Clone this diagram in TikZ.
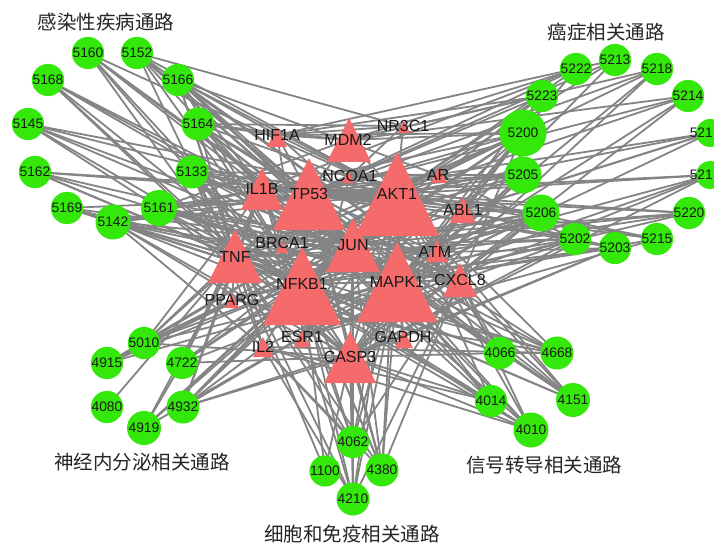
\documentclass[tikz,border=0pt]{standalone}
\usepackage{fontspec}
\setmainfont{Liberation Sans}
\newfontfamily\cjk{Noto Sans CJK SC}
\pgfdeclarelayer{bgl}
\pgfdeclarelayer{edges}
\pgfsetlayers{bgl,edges,main}
\definecolor{gfill}{RGB}{51,232,10}
\definecolor{tfill}{RGB}{245,106,106}
\definecolor{edgec}{RGB}{132,132,132}
\definecolor{labc}{RGB}{25,25,25}
\tikzset{
  gnode/.style={circle, fill=gfill, inner sep=0pt, text=labc, font=\fontsize{13.8}{13.8}\selectfont},
  glabel/.style={inner sep=0pt, text=labc, font=\fontsize{13.8}{13.8}\selectfont},
  tlabel/.style={inner sep=0pt, text=labc, font=\fontsize{16}{16}\selectfont},
  edge/.style={draw=edgec, line width=1.8pt},
  title/.style={inner sep=0pt, text=black!85, font=\cjk\fontsize{19.5}{19.5}\selectfont}
}
\begin{document}
\begin{tikzpicture}[x=1pt,y=-1pt]
\useasboundingbox (0,0) rectangle (714,545);
\begin{pgfonlayer}{bgl}
\fill[white] (0,0) rectangle (714,545);
\end{pgfonlayer}
\clip (0,0) rectangle (714,545);
% green pathway nodes
\foreach \n/\x/\y/\d in {
  5160/88/53/30, 5152/137/53/30, 5166/178/80/32, 5168/48/80/30, 5145/28/124/28,
  5164/198/124/33, 5162/35/172/28, 5133/192/172/33, 5169/67/208/27, 5161/159/208/36,
  5142/113/222/35,
  5222/576/69/24, 5213/615/60/22, 5218/657/69/27, 5223/542/96/26, 5214/688/96/26,
  5200/523/133/47, 5205/523/175/37, 5206/541/213/37, 5220/689/213/31, 5202/575/239/32,
  5215/657/239/30, 5203/615/248/32,
  5010/144/343/30, 4915/107/363/25, 4722/182/363/32, 4080/107/407/15, 4932/183/407/33,
  4919/144/428/34,
  4066/500/353/30, 4668/557/353/33, 4014/491/401/28, 4151/573/400/34, 4010/531/430/35,
  4062/353/442/26, 1100/325/471/17, 4380/382/470/33, 4210/353/499/33}
  {\node[gnode, minimum size=\d pt] (g\n) at (\x,\y) {\n};}
\node[gnode, minimum size=28pt] (g521a) at (710,133) {};
\node[glabel, anchor=east] (l521a) at (713,133) {521};
\node[gnode, minimum size=28pt] (g521b) at (710,175) {};
\node[glabel, anchor=east] (l521b) at (713,175) {521};
% red gene triangles
\foreach \n/\x/\y/\s in {
  TP53/309/194/36, AKT1/397/194/42, NFKB1/302/286/39, MAPK1/397/282/40,
  JUN/353/245/27, TNF/235/256/27, CASP3/350/357/26, IL1B/262/189/21,
  MDM2/349/140/22, CXCL8/460/280/17, ABL1/463/210/13, HIF1A/277/137/10,
  IL2/263/347/10, ATM/437/251/11, AR/439/175/8, NR3C1/404/127/6,
  NCOA1/348/177/6, BRCA1/282/247/6, PPARG/232/301/7, ESR1/302/339/8,
  GAPDH/404/339/9}
  {\fill[tfill] (\x,\y-\s) -- (\x-\s,\y+\s) -- (\x+\s,\y+\s) -- cycle;}
\foreach \n/\x/\y in {
  TP53/309/194, AKT1/397/194, NFKB1/302/284, MAPK1/397/282,
  JUN/353/245, TNF/235/257, CASP3/350/357, IL1B/262/189,
  MDM2/348/140, CXCL8/460/280, ABL1/463/210, HIF1A/277/135,
  IL2/263/347, ATM/435/252, AR/438/175, NR3C1/403/126,
  NCOA1/350/176, BRCA1/282/243, PPARG/232/300, ESR1/302/337,
  GAPDH/403/337}
  {\node[tlabel] (\n) at (\x,\y) {\n};}
% connectors
\begin{pgfonlayer}{edges}
\foreach \s/\ts in {
  g5160/{TNF,NFKB1,IL1B,JUN,MAPK1,AKT1,CASP3},
  g5152/{TNF,NFKB1,IL1B,TP53,AKT1,MAPK1,CXCL8,JUN,NR3C1},
  g5166/{TNF,NFKB1,IL1B,JUN,MAPK1,AKT1,CXCL8,HIF1A,TP53,IL2,AR},
  g5168/{TNF,NFKB1,IL1B,JUN,CASP3,MAPK1},
  g5145/{TNF,NFKB1,AKT1,MAPK1,JUN,TP53},
  g5164/{TNF,NFKB1,IL1B,AKT1,TP53,MAPK1,CXCL8,JUN,CASP3,HIF1A,MDM2,NR3C1},
  g5162/{TNF,NFKB1,AKT1,MAPK1,IL1B,JUN},
  g5133/{TNF,NFKB1,IL1B,JUN,MAPK1,AKT1,CXCL8,CASP3,TP53,IL2,AR},
  g5169/{TNF,NFKB1,MAPK1,JUN,AKT1},
  g5161/{TNF,NFKB1,IL1B,AKT1,MAPK1,TP53,JUN,CASP3,CXCL8,BRCA1,MDM2,ATM},
  g5142/{TNF,NFKB1,IL1B,JUN,MAPK1,AKT1,CASP3,IL2,TP53,CXCL8,ESR1,GAPDH},
  g5222/{AKT1,TP53,MAPK1,MDM2,IL1B},
  g5213/{AKT1,TP53,MAPK1,HIF1A},
  g5218/{AKT1,TP53,MAPK1,CASP3,MDM2},
  g5223/{TP53,AKT1,MAPK1,MDM2,HIF1A,JUN},
  g5214/{TP53,AKT1,MAPK1,CASP3,MDM2},
  g5200/{TP53,AKT1,MAPK1,MDM2,JUN,NFKB1,TNF,CASP3,HIF1A,IL1B,BRCA1,ATM,ABL1,ESR1,CXCL8,AR},
  g521a/{TP53,AKT1,MAPK1,ABL1,JUN},
  g5205/{TP53,AKT1,MAPK1,AR,NCOA1,ATM,BRCA1,JUN,CASP3,IL1B,TNF},
  g521b/{TP53,AKT1,MAPK1,CASP3,ESR1,NFKB1},
  g5206/{TP53,AKT1,MAPK1,ABL1,ATM,JUN,NFKB1,CASP3,IL2,PPARG,CXCL8,TNF},
  g5220/{TP53,AKT1,MAPK1,JUN,ATM,BRCA1},
  g5202/{TP53,AKT1,MAPK1,AR,CASP3,JUN,ESR1,NFKB1,TNF},
  g5215/{TP53,AKT1,MAPK1,ESR1,NCOA1},
  g5203/{TP53,AKT1,MAPK1,CASP3,GAPDH,TNF,NFKB1},
  g5010/{AKT1,MAPK1,NFKB1,TNF,JUN,PPARG,TP53,IL1B,CASP3},
  g4915/{MAPK1,AKT1,JUN,NFKB1,g5010},
  g4722/{AKT1,MAPK1,TNF,NFKB1,IL1B,JUN,CASP3},
  g4080/{TNF},
  g4932/{AKT1,MAPK1,TNF,NFKB1,JUN,IL1B,CASP3,IL2,ESR1,GAPDH},
  g4919/{AKT1,MAPK1,JUN,TNF,NFKB1,g4722},
  g4066/{AKT1,MAPK1,NFKB1,TNF,JUN,IL1B,TP53,CASP3,CXCL8,g4668},
  g4668/{AKT1,MAPK1,NFKB1,TNF,JUN,IL2,TP53,PPARG},
  g4014/{MAPK1,NFKB1,TNF,JUN,AKT1,IL1B,CASP3,IL2},
  g4151/{AKT1,MAPK1,TP53,NFKB1,JUN,ATM,HIF1A,TNF},
  g4010/{MAPK1,AKT1,NFKB1,TNF,JUN,IL1B,CASP3,CXCL8,IL2},
  g4062/{TNF,NFKB1,IL1B,CASP3,MAPK1,AKT1,JUN,IL2,CXCL8},
  g1100/{TNF,NFKB1,CASP3},
  g4380/{TNF,NFKB1,MAPK1,AKT1,IL1B,JUN,CXCL8,IL2,CASP3,TP53},
  g4210/{TNF,NFKB1,MAPK1,AKT1,IL1B,JUN,CXCL8,IL2,CASP3},
  TP53/{AKT1,MDM2,JUN,MAPK1,NFKB1,TNF,CASP3,ATM,BRCA1,ABL1,HIF1A,ESR1,AR,IL1B},
  AKT1/{MAPK1,JUN,NFKB1,TNF,CASP3,MDM2,HIF1A,ESR1,AR,GAPDH,IL1B,CXCL8,PPARG,NR3C1},
  NFKB1/{TNF,IL1B,MAPK1,JUN,CXCL8,IL2,CASP3,PPARG,HIF1A,ESR1},
  MAPK1/{JUN,TNF,CASP3,ESR1,CXCL8,IL1B,GAPDH,ABL1},
  TNF/{IL1B,CXCL8,IL2,CASP3,JUN,PPARG},
  JUN/{CASP3,ESR1},
  ESR1/{NCOA1,AR},
  AR/{NCOA1},
  NR3C1/{NCOA1,HIF1A},
  BRCA1/{ATM},
  ATM/{ABL1},
  CASP3/{GAPDH},
  HIF1A/{MDM2},
  IL1B/{CXCL8}}
  {\foreach \t in \ts {\draw[edge] (\s.center) -- (\t.center);}}
\end{pgfonlayer}
% pathway titles
\node[title] (t1) at (106,22) {感染性疾病通路};
\node[title] (t2) at (606,32) {癌症相关通路};
\node[title] (t3) at (142,462) {神经内分泌相关通路};
\node[title] (t4) at (544,465) {信号转导相关通路};
\node[title] (t5) at (352,534) {细胞和免疫相关通路};
\end{tikzpicture}
\end{document}
